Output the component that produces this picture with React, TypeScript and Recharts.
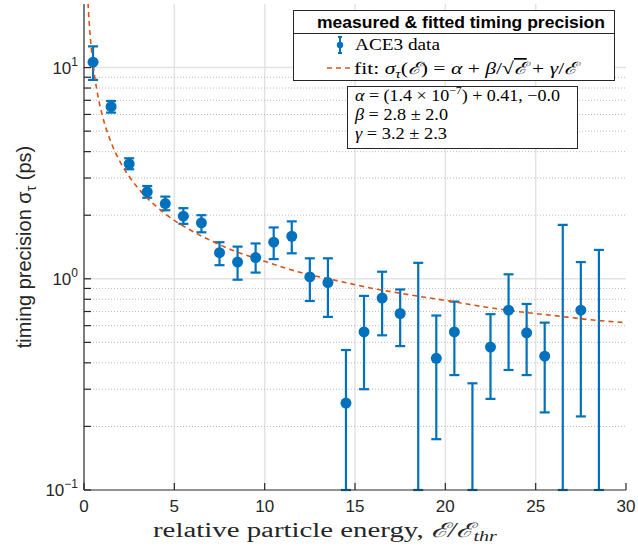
import React from "react";
import {
  ComposedChart,
  Scatter,
  Line,
  XAxis,
  YAxis,
  CartesianGrid,
  ErrorBar,
} from "recharts";

const energy = [
  0.5, 1.5, 2.5, 3.5, 4.5, 5.5, 6.5, 7.5, 8.5, 9.5, 10.5, 11.5, 12.5, 13.5,
  14.5, 15.5, 16.5, 17.5, 18.5, 19.5, 20.5, 21.5, 22.5, 23.5, 24.5, 25.5,
  26.5, 27.5, 28.5,
];
const sigma = [
  10.6, 6.53, 3.5, 2.58, 2.27, 1.98, 1.84, 1.33, 1.2, 1.26, 1.49, 1.59, 1.02,
  0.96, 0.258, 0.56, 0.81, 0.685, 0.05, 0.42, 0.56, 0.05, 0.475, 0.71, 0.555,
  0.43, 0.05, 0.71, 0.05,
];
const sigmaHigh = [
  12.6, 6.95, 3.72, 2.75, 2.45, 2.16, 2.0, 1.49, 1.42, 1.47, 1.75, 1.87, 1.25,
  1.25, 0.46, 0.83, 1.08, 0.89, 1.19, 0.67, 0.78, 0.32, 0.68, 1.05, 0.76, 0.62,
  1.8, 1.2, 1.37,
];
// bars that run off the bottom of the axes stop at 0.1
const sigmaLow = [
  8.74, 6.12, 3.3, 2.42, 2.11, 1.82, 1.66, 1.16, 0.99, 1.07, 1.24, 1.32, 0.785,
  0.66, 0.1, 0.3, 0.54, 0.48, 0.1, 0.174, 0.35, 0.1, 0.27, 0.37, 0.35, 0.233,
  0.1, 0.223, 0.1,
];

// fitted curve, sampled along the dashed line
const fitEnergy = [
  0.2, 0.25, 0.35, 0.5, 0.75, 1, 1.5, 2, 2.5, 3, 4, 5, 6, 7, 8, 10, 12, 14, 16,
  18, 20, 22, 24, 26, 28, 30,
];
const fitSigma = [
  22.3, 18.4, 13.9, 10.4, 7.5, 6.0, 4.42, 3.58, 3.05, 2.68, 2.2, 1.89, 1.68,
  1.52, 1.39, 1.21, 1.07, 0.98, 0.9, 0.84, 0.79, 0.74, 0.7, 0.67, 0.64, 0.62,
];

const xTicks = [0, 5, 10, 15, 20, 25, 30];
const yMajor = [0.1, 1, 10];
const yMinor = [
  0.2, 0.3, 0.4, 0.5, 0.6, 0.7, 0.8, 0.9, 2, 3, 4, 5, 6, 7, 8, 9,
];
const yTicks = [...yMajor, ...yMinor].sort((a, b) => a - b);

const BLUE = "#0072BD";
const ORANGE = "#D95319";
const AXIS = "#262626";
const SANS = "'Liberation Sans', Arial, Helvetica, sans-serif";
const SERIF = "'Liberation Serif', 'DejaVu Serif', serif";

const points = energy.map((x, i) => ({
  x,
  y: sigma[i],
  err: [sigma[i] - sigmaLow[i], sigmaHigh[i] - sigma[i]],
}));
const fit = fitEnergy.map((x, i) => ({ x, y: fitSigma[i] }));

const XTick = (props: any) => {
  const { x, y, payload } = props;
  return (
    <text
      x={x}
      y={y}
      dy="0.71em"
      textAnchor="middle"
      fontFamily={SANS}
      fontSize={17}
      fill={AXIS}
    >
      {payload.value}
    </text>
  );
};

const YTick = (props: any) => {
  const { x, y, payload } = props;
  const lg = Math.log10(payload.value);
  const exp = Math.round(lg);
  if (Math.abs(lg - exp) > 1e-6) return <g />;
  return (
    <text
      x={x}
      y={y + 6}
      textAnchor="end"
      fontFamily={SANS}
      fontSize={17}
      fill={AXIS}
    >
      10
      <tspan dy={-8} fontSize={12}>
        {exp < 0 ? "\u2212" + Math.abs(exp) : exp}
      </tspan>
    </text>
  );
};

const NoTick = () => <g />;

const Dot = (props: any) => {
  const { cx, cy } = props;
  return <circle cx={cx} cy={cy} r={5.5} fill={BLUE} />;
};

const App = () => {
  return (
    <div
      style={{
        position: "absolute",
        left: 0,
        top: 0,
        width: 638,
        height: 548,
        background: "#fff",
        overflow: "hidden",
      }}
    >
      <ComposedChart
        width={638}
        height={548}
        margin={{ top: 4, right: 12, bottom: 0, left: 0 }}
      >
        <CartesianGrid
          xAxisId="x"
          yAxisId="y"
          horizontalValues={[1, 10]}
          verticalValues={[5, 10, 15, 20, 25]}
          stroke="#e3e3e3"
          strokeWidth={1.5}
        />
        <CartesianGrid
          xAxisId="x"
          yAxisId="y"
          vertical={false}
          horizontalValues={yMinor}
          stroke="#bdbdbd"
          strokeDasharray="1 2"
        />
        <XAxis
          xAxisId="x"
          dataKey="x"
          type="number"
          domain={[0, 30]}
          ticks={xTicks}
          interval={0}
          allowDataOverflow
          height={58}
          tickSize={-7}
          tickMargin={17}
          tick={<XTick />}
          axisLine={{ stroke: AXIS, strokeWidth: 1.2 }}
          tickLine={{ stroke: AXIS, strokeWidth: 1.2 }}
        />
        <XAxis
          xAxisId="top"
          orientation="top"
          type="number"
          domain={[0, 30]}
          ticks={xTicks}
          interval={0}
          height={0}
          tickSize={-7}
          tick={NoTick}
          axisLine={{ stroke: AXIS, strokeWidth: 1.2 }}
          tickLine={{ stroke: AXIS, strokeWidth: 1.2 }}
        />
        <YAxis
          yAxisId="y"
          scale="log"
          type="number"
          domain={[0.1, 20]}
          ticks={yTicks}
          interval={0}
          allowDataOverflow
          width={84}
          tickSize={-7}
          tickMargin={13}
          tick={<YTick />}
          axisLine={{ stroke: AXIS, strokeWidth: 1.2 }}
          tickLine={{ stroke: AXIS, strokeWidth: 1.2 }}
        />
        <YAxis
          yAxisId="right"
          orientation="right"
          scale="log"
          type="number"
          domain={[0.1, 20]}
          ticks={yTicks}
          interval={0}
          allowDataOverflow
          width={0}
          tickSize={-7}
          tick={NoTick}
          axisLine={{ stroke: AXIS, strokeWidth: 1.2 }}
          tickLine={{ stroke: AXIS, strokeWidth: 1.2 }}
        />
        <Scatter
          xAxisId="x"
          yAxisId="y"
          data={points}
          dataKey="y"
          shape={<Dot />}
          isAnimationActive={false}
        >
          <ErrorBar
            dataKey="err"
            direction="y"
            width={5}
            stroke={BLUE}
            strokeWidth={2.2}
            isAnimationActive={false}
          />
        </Scatter>
        <Line
          xAxisId="x"
          yAxisId="y"
          data={fit}
          dataKey="y"
          type="monotone"
          stroke={ORANGE}
          strokeWidth={1.6}
          strokeDasharray="5 4"
          dot={false}
          activeDot={false}
          isAnimationActive={false}
        />
      </ComposedChart>

      <svg
        width={638}
        height={548}
        style={{ position: "absolute", left: 0, top: 0, pointerEvents: "none" }}
      >
        {/* axis titles */}
        <text
          transform="translate(31,247) rotate(-90)"
          textAnchor="middle"
          fontFamily={SANS}
          fontSize={20}
          fill={AXIS}
        >
          timing precision σ
          <tspan dy={5} fontSize={14}>
            τ
          </tspan>
          <tspan dy={-5}> (ps)</tspan>
        </text>
        <text
          x={153}
          y={537}
          fontFamily={SERIF}
          fontSize={20}
          fill={AXIS}
          textLength={344}
          lengthAdjust="spacingAndGlyphs"
        >
          relative particle energy,{" "}
          <tspan fontStyle="italic">ℰ/ℰ</tspan>
          <tspan dy={4} fontSize={14} fontStyle="italic">
            thr
          </tspan>
        </text>

        {/* legend */}
        <rect x={293.5} y={10.5} width={321} height={70} fill="#fff" stroke={AXIS} />
        <line x1={293.5} x2={614.5} y1={33.5} y2={33.5} stroke={AXIS} />
        <text
          x={317}
          y={27.5}
          fontFamily={SANS}
          fontWeight="bold"
          fontSize={16}
          fill="#000"
          textLength={288}
          lengthAdjust="spacingAndGlyphs"
        >
          measured &amp; fitted timing precision
        </text>
        <line x1={340} x2={340} y1={37} y2={53} stroke={BLUE} strokeWidth={2} />
        <line x1={338} x2={342} y1={37} y2={37} stroke={BLUE} strokeWidth={2} />
        <line x1={338} x2={342} y1={53} y2={53} stroke={BLUE} strokeWidth={2} />
        <circle cx={340} cy={45} r={3.2} fill={BLUE} />
        <text
          x={355}
          y={50}
          fontFamily={SERIF}
          fontSize={16.5}
          fill="#000"
          textLength={85}
          lengthAdjust="spacingAndGlyphs"
        >
          ACE3 data
        </text>
        <line
          x1={327}
          x2={352}
          y1={68}
          y2={68}
          stroke={ORANGE}
          strokeWidth={1.6}
          strokeDasharray="5 4"
        />
        <text
          x={354}
          y={74}
          fontFamily={SERIF}
          fontSize={17}
          fill="#000"
          textLength={223}
          lengthAdjust="spacingAndGlyphs"
        >
          fit: <tspan fontStyle="italic">σ</tspan>
          <tspan dy={4} fontSize={12} fontStyle="italic">
            τ
          </tspan>
          <tspan dy={-4}>(</tspan>
          <tspan fontStyle="italic">ℰ</tspan>) = <tspan fontStyle="italic">α</tspan> +{" "}
          <tspan fontStyle="italic">β</tspan>/√<tspan fontStyle="italic" textDecoration="overline">ℰ</tspan> +{" "}
          <tspan fontStyle="italic">γ</tspan>/<tspan fontStyle="italic">ℰ</tspan>
        </text>

        {/* fit parameters */}
        <rect x={347.5} y={86.5} width={230} height={62} fill="#fff" stroke={AXIS} />
        <text
          x={355}
          y={101}
          fontFamily={SERIF}
          fontSize={17}
          fill="#000"
          textLength={205}
          lengthAdjust="spacingAndGlyphs"
        >
          <tspan fontStyle="italic">α</tspan> = (1.4 × 10
          <tspan dy={-7} fontSize={11}>
            −7
          </tspan>
          <tspan dy={7}>) + 0.41, −0.0</tspan>
        </text>
        <text
          x={355}
          y={120}
          fontFamily={SERIF}
          fontSize={17}
          fill="#000"
          textLength={93}
          lengthAdjust="spacingAndGlyphs"
        >
          <tspan fontStyle="italic">β</tspan> = 2.8 ± 2.0
        </text>
        <text
          x={355}
          y={138.5}
          fontFamily={SERIF}
          fontSize={17}
          fill="#000"
          textLength={92}
          lengthAdjust="spacingAndGlyphs"
        >
          <tspan fontStyle="italic">γ</tspan> = 3.2 ± 2.3
        </text>
      </svg>
    </div>
  );
};

export default App;
